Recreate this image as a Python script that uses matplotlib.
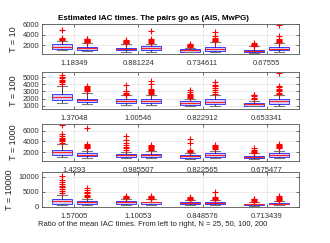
import matplotlib
matplotlib.use("Agg")
import matplotlib.pyplot as plt

plt.rcParams['font.family'] = ['Liberation Sans', 'DejaVu Sans']

title = "Estimated IAC times. The pairs go as (AIS, MwPG)"
xlabel = "Ratio of the mean IAC times. From left to right, N = 25, 50, 100, 200"
row_labels = ["T = 10", "T = 100", "T = 1000", "T = 10000"]
ratio_labels = [
    ["1.18349", "0.881224", "0.734611", "0.67555"],
    ["1.37048", "1.00546", "0.822912", "0.653341"],
    ["1.4293", "0.985507", "0.822565", "0.675477"],
    ["1.57005", "1.10053", "0.848576", "0.713439"],
]
yticks = [[2000, 4000, 6000], [1000, 2000, 3000, 4000, 5000],
          [2000, 4000, 6000], [0, 5000, 10000]]
ylims = [(280, 6050), (560, 5700), (360, 7250), (-150, 11500)]

# per row: 8 boxes (AIS, MwPG) x N; each: (whislo, q1, med, q3, whishi)
stats_T10 = [(980, 1260, 1720, 2120, 2780), (780, 1120, 1380, 1660, 2320),
             (720, 980, 1220, 1460, 2180), (700, 980, 1380, 1780, 2250),
             (600, 700, 980, 1260, 1500), (660, 920, 1260, 1580, 2520),
             (520, 660, 920, 1120, 1780), (700, 980, 1260, 1580, 2320)]
fliers_T10 = [[3000, 3150, 3260, 3350, 4980], [2500, 2600, 2700, 2800, 2900, 3000, 3100, 3250],
              [2300, 2400, 2500, 2600, 2700, 2850, 3000], [2400, 2600, 2800, 3000, 3200, 4660],
              [1700, 1800, 1900, 2000, 2100, 2250], [2700, 2850, 3000, 3150, 3300, 3700, 4450],
              [1900, 2000, 2100, 2250, 2400], [2500, 2650, 2800, 3000, 3200, 3800, 5900]]
stats_T100 = [(1410, 1860, 2230, 2640, 3820), (1230, 1545, 1770, 2000, 2820),
              (1180, 1450, 1730, 2000, 2450), (1090, 1450, 1680, 2000, 2550),
              (1000, 1180, 1410, 1640, 2000), (1000, 1270, 1590, 1900, 2450),
              (910, 1000, 1230, 1450, 1730), (1000, 1320, 1640, 1900, 2550)]
fliers_T100 = [[4050, 4270, 4450, 4650, 4850, 5050, 5300], [3000, 3150, 3300, 3450, 3600, 3730],
               [2550, 2700, 2850, 3000, 3100, 3900], [2600, 2750, 2900, 3050, 3200, 3360, 4050, 4500],
               [2100, 2250, 2400, 2550, 2700, 2900, 3140], [2700, 2950, 3200, 3450, 3700, 3950, 4270],
               [2000, 2150, 2300, 2450, 2550], [2700, 2850, 3000, 3200, 3400, 3600, 3730, 5600]]
stats_T1000 = [(1060, 1500, 2000, 2440, 3440), (940, 1250, 1500, 1810, 2250),
               (940, 1190, 1440, 1690, 2120), (940, 1190, 1500, 1750, 2310),
               (810, 1000, 1250, 1500, 1940), (880, 1190, 1500, 1810, 2310),
               (690, 880, 1125, 1310, 1810), (940, 1190, 1440, 1810, 2310)]
fliers_T1000 = [[3700, 4000, 4300, 4500, 4700, 5000, 5300, 7000], [2750, 2900, 3050, 3200, 3350, 3500, 6500],
                [2440, 2700, 3000, 3400, 3800, 4200, 5000], [2440, 2600, 2750, 2900, 3050, 3200, 3370],
                [2000, 2150, 2300, 2450, 3690, 4440], [2560, 2750, 2950, 3150, 3370],
                [1940, 2100, 2300, 2500, 2750], [2750, 2900, 3050, 3200, 3400, 3560]]
stats_T10000 = [(420, 970, 1940, 2640, 3890), (420, 970, 1390, 1940, 2500),
                (560, 970, 1530, 1940, 2640), (560, 970, 1390, 1670, 2360),
                (420, 690, 1110, 1390, 2080), (420, 830, 1110, 1530, 2080),
                (280, 560, 830, 970, 1530), (420, 690, 970, 1250, 1800)]
fliers_T10000 = [[4600, 5200, 5800, 6400, 7000, 7600, 8300, 8750, 10100], [3200, 3600, 4000, 4500, 5000, 5500, 6100],
                 [2700, 2900, 3100, 3300, 3600], [2450, 2650, 2850, 3050, 3250, 3470],
                 [2150, 2400, 2650, 2900, 3200], [2150, 2500, 2850, 3200, 5000],
                 [1600, 1850, 2100, 2350, 2640], [1900, 2150, 2400, 2650, 2900, 3200, 3470]]

all_stats = [stats_T10, stats_T100, stats_T1000, stats_T10000]
all_fliers = [fliers_T10, fliers_T100, fliers_T1000, fliers_T10000]

pair_centers = [1, 2, 3, 4]
offset = 0.195
box_w = 0.31

fig = plt.figure(figsize=(3.3, 2.43), dpi=100)
W = 330.0
H = 243.0
rows_px = [(24, 54), (72, 109), (124, 161), (172, 207)]
left_px, right_px = 42, 299

for r in range(4):
    top, bot = rows_px[r]
    ax = fig.add_axes([left_px / W, 1 - bot / H, (right_px - left_px) / W, (bot - top) / H])
    positions = []
    for c in pair_centers:
        positions += [c - offset, c + offset]
    bxp_stats = []
    for s, f in zip(all_stats[r], all_fliers[r]):
        lo, q1, med, q3, hi = s
        bxp_stats.append(dict(whislo=lo, q1=q1, med=med, q3=q3, whishi=hi, fliers=f))
    ax.bxp(bxp_stats, positions=positions, widths=box_w, patch_artist=True,
           boxprops=dict(facecolor="#d6d0f6", edgecolor="#3b3bff", linewidth=0.7),
           medianprops=dict(color="#ff2020", linewidth=0.8),
           whiskerprops=dict(color="#222222", linewidth=0.6),
           capprops=dict(color="#777777", linewidth=0.8),
           capwidths=box_w * 0.5,
           flierprops=dict(marker="+", markeredgecolor="red", markersize=4,
                           markeredgewidth=0.8, linestyle="none"))
    ax.set_xlim(0.5, 4.5)
    ax.set_ylim(*ylims[r])
    ax.set_xticks(pair_centers)
    ax.set_xticklabels(ratio_labels[r])
    ax.set_yticks(yticks[r])
    ax.grid(True, color="#e3e3e3", linewidth=0.5)
    ax.set_axisbelow(True)
    ax.tick_params(axis="both", labelsize=5.5, length=2, width=0.5, direction="in",
                   top=True, right=True, colors="#333333", pad=2)
    ax.tick_params(axis="x", pad=4)
    for sp in ax.spines.values():
        sp.set_color("#555555")
        sp.set_linewidth(0.6)
    ax.set_ylabel(row_labels[r], fontsize=6.5, labelpad=3, color="#222222")

fig.text(153 / W, 1 - 18 / H, title, fontsize=5.8, fontweight="bold",
         ha="center", va="center")
fig.text(153 / W, 1 - 224 / H, xlabel, fontsize=5.5, color="#222222",
         ha="center", va="center")

fig.savefig("out.png", dpi=100)
